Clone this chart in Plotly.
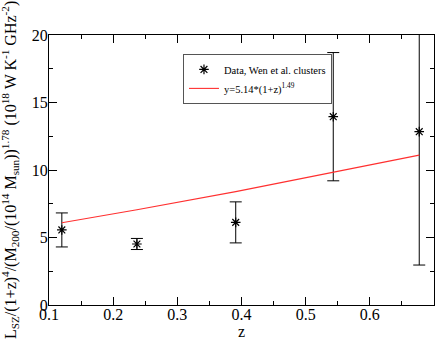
import plotly.graph_objects as go

# data
z = [0.12, 0.237, 0.391, 0.543, 0.677]
lsz = [5.56, 4.52, 6.12, 13.95, 12.84]
err = [1.26, 0.41, 1.52, 4.75, 9.88]

# fit curve y = 5.14*(1+z)^1.49, values at the data redshifts
fit_z = [0.12, 0.237, 0.391, 0.543, 0.677]
fit_y = [6.09, 7.06, 8.40, 9.81, 11.10]

x_ticks = [0.1, 0.2, 0.3, 0.4, 0.5, 0.6]
y_ticks = [0, 5, 10, 15, 20]

FONT = "Liberation Serif"

fig = go.Figure()

fig.add_trace(go.Scatter(
    x=z, y=lsz,
    mode="markers",
    name="Data, Wen et al. clusters",
    marker=dict(symbol="asterisk-open", size=8, color="black",
                line=dict(color="black", width=1.2)),
    error_y=dict(type="data", array=err, visible=True,
                 color="black", thickness=1, width=6),
))

fig.add_trace(go.Scatter(
    x=fit_z, y=fit_y,
    mode="lines",
    name="y=5.14*(1+z)<sup>1.49</sup>",
    line=dict(color="#ff3030", width=1.1),
))

axis_common = dict(
    showline=True, linecolor="black", linewidth=1,
    mirror="ticks", ticks="inside", tickcolor="black",
    ticklen=8, tickwidth=1, showgrid=False, zeroline=False,
    tickfont=dict(family=FONT, size=16, color="black"),
)

fig.update_xaxes(
    range=[0.1, 0.7], tickvals=x_ticks,
    ticktext=[f"{v:g}" for v in x_ticks],
    ticklabelstandoff=-5,
    minor=dict(dtick=0.05, tick0=0.1, ticks="inside", ticklen=4,
               tickcolor="black"),
    title=dict(text="z", font=dict(family=FONT, size=16, color="black"),
               standoff=0),
    **axis_common,
)
fig.update_yaxes(
    range=[0, 20], tickvals=y_ticks,
    ticklabelstandoff=-3,
    minor=dict(dtick=2.5, tick0=0, ticks="inside", ticklen=4,
               tickcolor="black"),
    **axis_common,
)

fig.add_annotation(
    text=("L<sub>SZ</sub>/(1+z)<sup>4</sup>/(M<sub>200</sub>/(10<sup>14</sup> "
          "M<sub>sun</sub>))<sup>1.78</sup> (10<sup>18</sup> W K<sup>-1</sup> "
          "GHz<sup>-2</sup>)"),
    xref="paper", yref="paper", x=0, y=0.5,
    xanchor="center", yanchor="middle", xshift=-39,
    textangle=-90, showarrow=False,
    font=dict(family=FONT, size=16, color="black"),
)

fig.update_layout(
    width=436, height=341,
    margin=dict(l=49, r=2, t=35, b=36),
    paper_bgcolor="white", plot_bgcolor="white",
    font=dict(family=FONT, color="black"),
    showlegend=True,
    legend=dict(x=0.348, y=0.93, xanchor="left", yanchor="top",
                bordercolor="#555555", borderwidth=1, bgcolor="white",
                font=dict(family=FONT, size=10.5, color="black"),
                tracegroupgap=0, itemwidth=30),
)

fig.write_html("out.html", config={"displayModeBar": False},
               post_script="document.body.style.margin='0';")
